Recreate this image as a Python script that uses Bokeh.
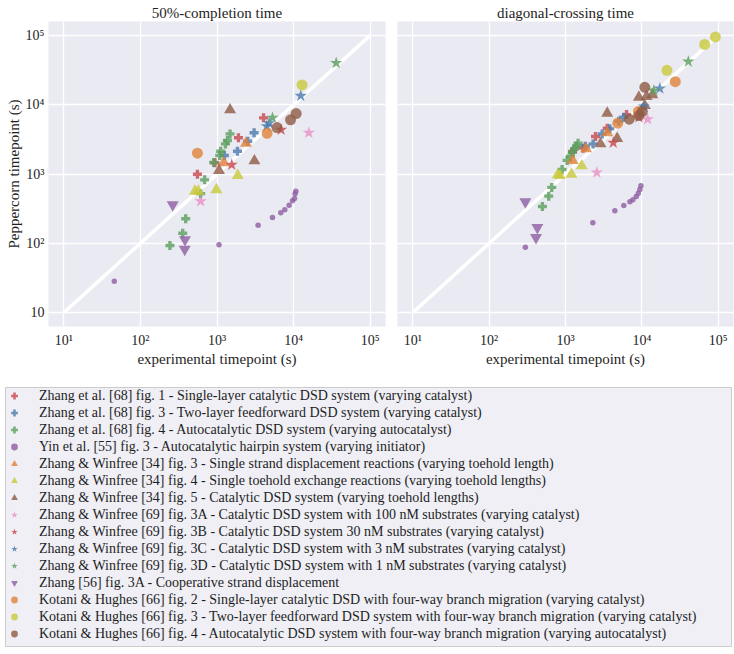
from bokeh.plotting import figure
from bokeh.models import Range1d, FixedTicker, Legend, LegendItem
from bokeh.layouts import column, row
from bokeh.embed import file_html
from bokeh.resources import INLINE

FONT = "Liberation Serif"
BG = "#eaeaf2"
TXT = "#1e1e1e"

# ---------------- data ----------------
tick_values = [10, 100, 1000, 10000, 100000]
x_tick_labels = ["10\u00b9", "10\u00b2", "10\u00b3", "10\u2074", "10\u2075"]
y_tick_labels = ["10", "10\u00b2", "10\u00b3", "10\u2074", "10\u2075"]
diagonal = [10, 100000]

# series 1: Zhang et al. [68] fig. 1
s01_x50 = [555, 940, 1905, 4050]
s01_y50 = [990, 1450, 3330, 6460]
s01_xdc = [1240, 1700, 2470, 3520, 6300]
s01_ydc = [2110, 2360, 3470, 4570, 7200]
# series 2: Zhang et al. [68] fig. 3
s02_x50 = [1250, 1850, 2520, 3050]
s02_y50 = [1850, 2130, 2970, 3930]
s02_xdc = [1820, 2300, 3020, 3800, 4990, 5800]
s02_ydc = [2520, 2720, 3790, 4480, 5770, 6580]
# series 3: Zhang et al. [68] fig. 4
s03_x50 = [243, 357, 390, 612, 690, 906, 1085, 1117, 1288, 1368, 1480]
s03_y50 = [93, 140, 226, 520, 824, 1466, 1850, 2130, 2720, 3040, 3790]
s03_xdc = [498, 603, 660, 902, 1050, 1160, 1230, 1310, 1390, 1460]
s03_ydc = [340, 479, 640, 1160, 1570, 1800, 2060, 2310, 2520, 2780]
# series 4: Yin et al. [55] fig. 3
s04_x50 = [45.6, 1062, 3440, 5300, 6800, 7680, 8740, 9680, 10300, 10470, 10700]
s04_y50 = [28.3, 95.5, 183, 236, 276, 305, 355, 411, 444, 519, 565]
s04_xdc = [298, 2280, 4430, 5800, 6970, 7630, 8450, 8980, 9420, 9710]
s04_ydc = [88, 198, 295, 351, 397, 425, 474, 528, 598, 676]
# series 5: Zhang & Winfree [34] fig. 3
s05_x50 = [1225, 2390]
s05_y50 = [1450, 2780]
s05_xdc = [1240, 1860, 3520]
s05_ydc = [1570, 2310, 3930]
# series 6: Zhang & Winfree [34] fig. 4
s06_x50 = [515, 571, 982, 1866]
s06_y50 = [565, 565, 592, 950]
s06_xdc = [790, 845, 1195, 1633]
s06_ydc = [973, 950, 993, 1312]
# series 7: Zhang & Winfree [34] fig. 5
s07_x50 = [1062, 1480, 3080]
s07_y50 = [1122, 8410, 1550]
s07_xdc = [2870, 3520, 4750, 9140, 10940, 11530, 13700]
s07_ydc = [2720, 7520, 3250, 12800, 9710, 13100, 13840]
# series 8: Zhang & Winfree [69] fig. 3A
s08_x50 = [612, 15800]
s08_y50 = [405, 3930]
s08_xdc = [2570, 11900]
s08_ydc = [1050, 6170]
# series 9: Zhang & Winfree [69] fig. 3B
s09_x50 = [1557, 6870]
s09_y50 = [1360, 4340]
s09_xdc = [4220, 9140]
s09_ydc = [2820, 6580]
# series 10: Zhang & Winfree [69] fig. 3C
s10_x50 = [4470, 4790, 12400]
s10_y50 = [4890, 5400, 13400]
s10_xdc = [9900, 10600, 17200]
s10_ydc = [8490, 9400, 17060]
# series 11: Zhang & Winfree [69] fig. 3D
s11_x50 = [5300, 36000]
s11_y50 = [6460, 40000]
s11_xdc = [14360, 40600]
s11_ydc = [15960, 41800]
# series 12: Zhang [56] fig. 3A
s12_x50 = [264, 382, 379]
s12_y50 = [360, 113, 82]
s12_xdc = [298, 428, 411]
s12_ydc = [397, 169, 121]
# series 13: Kotani & Hughes [66] fig. 2
s13_x50 = [555, 4510]
s13_y50 = [1995, 3870]
s13_xdc = [4840, 8980, 27400]
s13_ydc = [5400, 7960, 21500]
# series 14: Kotani & Hughes [66] fig. 3
s14_x50 = [12900]
s14_y50 = [19300]
s14_xdc = [21300, 66500, 91800]
s14_ydc = [31300, 74100, 94800]
# series 15: Kotani & Hughes [66] fig. 4
s15_x50 = [6080, 9120, 10800]
s15_y50 = [4680, 6040, 7450]
s15_xdc = [6840, 9140, 10140, 10940]
s15_ydc = [6170, 6970, 7960, 17800]

series_labels = [
    "Zhang et al. [68] fig. 1 - Single-layer catalytic DSD system (varying catalyst)",
    "Zhang et al. [68] fig. 3 - Two-layer feedforward DSD system (varying catalyst)",
    "Zhang et al. [68] fig. 4 - Autocatalytic DSD system (varying autocatalyst)",
    "Yin et al. [55] fig. 3 - Autocatalytic hairpin system (varying initiator)",
    "Zhang & Winfree [34] fig. 3 - Single strand displacement reactions (varying toehold length)",
    "Zhang & Winfree [34] fig. 4 - Single toehold exchange reactions (varying toehold lengths)",
    "Zhang & Winfree [34] fig. 5 - Catalytic DSD system (varying toehold lengths)",
    "Zhang & Winfree [69] fig. 3A - Catalytic DSD system with 100 nM substrates (varying catalyst)",
    "Zhang & Winfree [69] fig. 3B - Catalytic DSD system 30 nM substrates (varying catalyst)",
    "Zhang & Winfree [69] fig. 3C - Catalytic DSD system with 3 nM substrates (varying catalyst)",
    "Zhang & Winfree [69] fig. 3D - Catalytic DSD system with 1 nM substrates (varying catalyst)",
    "Zhang [56] fig. 3A - Cooperative strand displacement",
    "Kotani & Hughes [66] fig. 2 - Single-layer catalytic DSD with four-way branch migration (varying catalyst)",
    "Kotani & Hughes [66] fig. 3 - Two-layer feedforward DSD system with four-way branch migration (varying catalyst)",
    "Kotani & Hughes [66] fig. 4 - Autocatalytic DSD system with four-way branch migration (varying autocatalyst)",
]

panel_50 = [
    (s01_x50, s01_y50), (s02_x50, s02_y50), (s03_x50, s03_y50), (s04_x50, s04_y50),
    (s05_x50, s05_y50), (s06_x50, s06_y50), (s07_x50, s07_y50), (s08_x50, s08_y50),
    (s09_x50, s09_y50), (s10_x50, s10_y50), (s11_x50, s11_y50), (s12_x50, s12_y50),
    (s13_x50, s13_y50), (s14_x50, s14_y50), (s15_x50, s15_y50),
]
panel_dc = [
    (s01_xdc, s01_ydc), (s02_xdc, s02_ydc), (s03_xdc, s03_ydc), (s04_xdc, s04_ydc),
    (s05_xdc, s05_ydc), (s06_xdc, s06_ydc), (s07_xdc, s07_ydc), (s08_xdc, s08_ydc),
    (s09_xdc, s09_ydc), (s10_xdc, s10_ydc), (s11_xdc, s11_ydc), (s12_xdc, s12_ydc),
    (s13_xdc, s13_ydc), (s14_xdc, s14_ydc), (s15_xdc, s15_ydc),
]

# ---------------- styles ----------------
RED, BLUE, GREEN, PURPLE = "#c8474c", "#4a79ad", "#5a9e5c", "#8e5ea2"
ORANGE, YELLOW, BROWN, PINK = "#e0823a", "#c9c93c", "#8f5b43", "#e98fc6"
colors = [RED, BLUE, GREEN, PURPLE, ORANGE, YELLOW, BROWN, PINK,
          RED, BLUE, GREEN, PURPLE, ORANGE, YELLOW, BROWN]
markers = ["plus", "plus", "plus", "circle", "triangle", "triangle", "triangle",
           "star", "star", "star", "star", "inverted_triangle", "circle", "circle", "circle"]
sizes = [9, 9, 9, 5.5, 12, 12, 12, 13, 13, 13, 13, 12, 11, 11, 11]
ALPHA = 0.8

lo, hi = 10 ** 0.8, 10 ** 5.2


def make_panel(width, border_left, border_right, show_y, title, data):
    p = figure(width=width, height=372, x_axis_type="log", y_axis_type="log",
               x_range=Range1d(lo, hi), y_range=Range1d(lo, hi),
               output_backend="svg", toolbar_location=None,
               min_border_left=border_left, min_border_right=border_right,
               min_border_top=21, min_border_bottom=46)
    p.background_fill_color = BG
    p.border_fill_color = "white"
    p.outline_line_color = None

    p.title.text = title
    p.title.align = "center"
    p.title.text_font = FONT
    p.title.text_font_size = "15px"
    p.title.text_font_style = "normal"
    p.title.text_color = TXT
    p.title.standoff = 1

    for ax in (p.xaxis[0], p.yaxis[0]):
        ax.ticker = FixedTicker(ticks=tick_values)
        ax.axis_line_color = None
        ax.major_tick_line_color = None
        ax.minor_tick_line_color = None
        ax.major_tick_out = 0
        ax.major_tick_in = 0
        ax.major_label_text_font = FONT
        ax.major_label_text_font_size = "14px"
        ax.major_label_text_color = TXT
        ax.axis_label_text_font = FONT
        ax.axis_label_text_font_size = "15px"
        ax.axis_label_text_font_style = "normal"
        ax.axis_label_text_color = TXT
    p.xaxis.major_label_overrides = {t: l for t, l in zip(tick_values, x_tick_labels)}
    p.yaxis.major_label_overrides = {t: l for t, l in zip(tick_values, y_tick_labels)}
    p.xaxis.axis_label = "experimental timepoint (s)"
    p.xaxis.major_label_standoff = 6
    p.xaxis.axis_label_standoff = 0
    if show_y:
        p.yaxis.axis_label = "Peppercorn timepoint (s)"
        p.yaxis.major_label_standoff = 4
        p.yaxis.axis_label_standoff = 1
    else:
        p.yaxis.visible = False

    p.xgrid.ticker = FixedTicker(ticks=tick_values)
    p.ygrid.ticker = FixedTicker(ticks=tick_values)
    p.grid.grid_line_color = "white"
    p.grid.grid_line_width = 1.3
    p.grid.minor_grid_line_color = None

    p.line(diagonal, diagonal, line_color="white", line_width=3.5)

    for (xs, ys), m, c, s in zip(data, markers, colors, sizes):
        p.scatter(xs, ys, marker=m, size=s, fill_color=c, fill_alpha=ALPHA,
                  line_color=None)
    return p


p1 = make_panel(391, 48, 6, True, "50%-completion time", panel_50)
p2 = make_panel(343, 6, 1, False, "diagonal-crossing time", panel_dc)

# ---------------- legend panel ----------------
p3 = figure(width=734, height=281, x_range=Range1d(0, 1), y_range=Range1d(0, 1),
            x_axis_location=None, y_axis_location=None,
            output_backend="svg", toolbar_location=None,
            min_border_top=15, min_border_left=5, min_border_right=3, min_border_bottom=7)
p3.grid.visible = False
p3.background_fill_color = "#efeff5"
p3.border_fill_color = "white"
p3.outline_line_color = "#cccccc"
p3.outline_line_width = 1

items = []
for lab, m, c in zip(series_labels, markers, colors):
    # legend sample glyphs: one point kept outside the visible range
    r = p3.scatter(x=[-5], y=[-5], marker=m, size=6, fill_color=c, fill_alpha=ALPHA,
                   line_color=None)
    items.append(LegendItem(label=lab, renderers=[r]))

legend = Legend(items=items, location="top_left", margin=0, padding=2, spacing=0,
                glyph_width=18, glyph_height=17, label_height=17, label_standoff=16,
                label_text_font=FONT, label_text_font_size="14px",
                label_text_color=TXT,
                background_fill_alpha=0, border_line_color=None)
p3.add_layout(legend)

layout = column(row(p1, p2), p3)

open("out.html", "w").write(file_html(layout, INLINE))
